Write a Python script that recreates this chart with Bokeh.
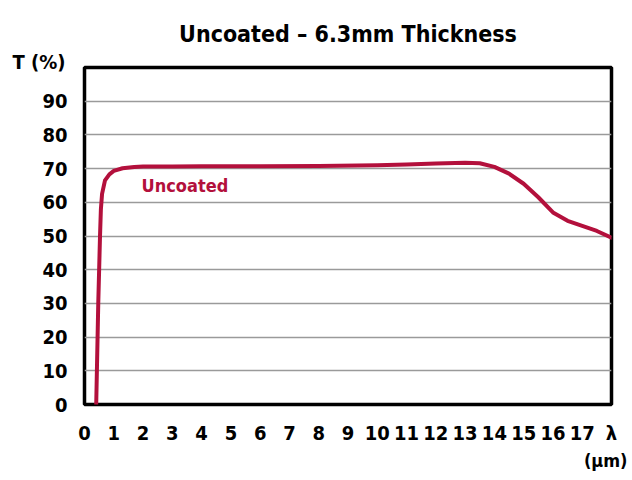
from bokeh.plotting import figure
from bokeh.models import Range1d, Label, FixedTicker, ColumnDataSource, Title
from bokeh.embed import file_html
from bokeh.resources import INLINE

# ---- data ----
wavelength_um = [0.40, 0.47, 0.53, 0.56, 0.60, 0.70, 0.85, 1.0, 1.3, 1.7, 2.0, 3.0, 4.0, 6.0, 8.0,
                 10.0, 11.0, 12.0, 13.0, 13.5, 14.0, 14.5, 15.0, 15.5, 16.0, 16.5, 17.0, 17.5, 18.0]
transmission = [0, 30, 50, 58, 62.5, 66.5, 68.3, 69.3, 70.1, 70.5, 70.6, 70.6, 70.7, 70.7, 70.8,
                71.0, 71.2, 71.5, 71.7, 71.6, 70.5, 68.5, 65.5, 61.5, 57.0, 54.5, 53.0, 51.5, 49.5]
x_ticks = list(range(0, 19))
x_tick_labels = {i: str(i) for i in range(0, 18)}
x_tick_labels[18] = "λ"
y_ticks = list(range(0, 100, 10))
series_name = "Uncoated"
title_text = "Uncoated – 6.3mm Thickness"
y_label = "T (%)"
x_unit = "(µm)"

FONT = "DejaVu Sans Condensed"
RED = "#B3103C"

p = figure(width=632, height=480, output_backend="svg", toolbar_location=None,
           x_range=Range1d(0, 18), y_range=Range1d(0, 100),
           min_border_left=84, min_border_right=21, min_border_top=67, min_border_bottom=76)
p.background_fill_color = "white"
p.border_fill_color = "white"
p.outline_line_color = "black"
p.outline_line_width = 3.5

p.xgrid.grid_line_color = None
p.ygrid.ticker = FixedTicker(ticks=list(range(10, 100, 10)))
p.ygrid.grid_line_color = "#9a9a9a"
p.ygrid.grid_line_width = 1.5

for ax in (p.xaxis[0], p.yaxis[0]):
    ax.axis_line_color = None
    ax.major_tick_line_color = None
    ax.minor_tick_line_color = None
    ax.major_tick_out = 0
    ax.major_tick_in = 0
    ax.minor_tick_out = 0
    ax.major_label_text_font = FONT
    ax.major_label_text_font_style = "bold"
    ax.major_label_text_font_size = "20px"
    ax.major_label_text_color = "black"

p.xaxis[0].ticker = FixedTicker(ticks=x_ticks)
p.xaxis[0].major_label_overrides = x_tick_labels
p.xaxis[0].major_label_standoff = 16
p.yaxis[0].ticker = FixedTicker(ticks=y_ticks)
p.yaxis[0].major_label_standoff = 17

src = ColumnDataSource(dict(x=wavelength_um, y=transmission))
p.line("x", "y", source=src, line_color=RED, line_width=4, line_join="round", line_cap="round")

p.add_layout(Label(x=1.95, y=64.9, text=series_name, text_font=FONT, text_font_style="bold",
                   text_font_size="18px", text_color=RED, text_baseline="middle", text_align="left"))

# main title (outermost)
p.title.text = title_text
p.title.align = "center"
p.title.standoff = 13
p.title.text_font = FONT
p.title.text_font_style = "bold"
p.title.text_font_size = "23px"
p.title.text_color = "black"

# y label, just above the frame's top-left corner
p.add_layout(Title(text=y_label, align="left", offset=-72, text_font=FONT, text_font_style="bold",
                   text_font_size="20px", text_color="black", standoff=-12), "above")

p.add_layout(Title(text=x_unit, align="right", offset=-16, text_font=FONT, text_font_style="bold",
                   text_font_size="18px", text_color="black", standoff=0), "below")

open("out.html", "w").write(file_html(p, INLINE))
